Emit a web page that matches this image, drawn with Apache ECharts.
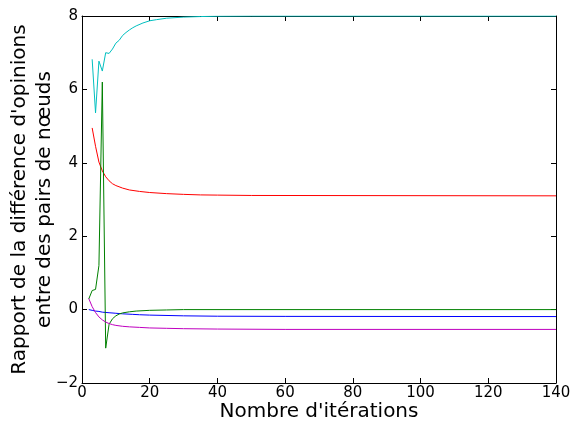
<!DOCTYPE html>
<html>
<head>
<meta charset="utf-8">
<script src="https://cdn.jsdelivr.net/npm/echarts@6/dist/echarts.min.js"></script>
<style>
html,body{margin:0;padding:0;background:#fff;}
#main{width:577px;height:424px;}
</style>
</head>
<body>
<div id="main"></div>
<script>
// Axis ticks
var xTicks = [0, 20, 40, 60, 80, 100, 120, 140];
var yTicks = [-2, 0, 2, 4, 6, 8];

// Series (iterations, values)
var blueX = [2, 3, 4, 5, 6, 8, 10, 12, 15, 17, 20, 30, 40, 60, 140];
var blueY = [0.0, -0.02, -0.04, -0.05, -0.07, -0.085, -0.1, -0.115, -0.13, -0.14, -0.15, -0.17, -0.18, -0.185, -0.19];

var redX = [3, 4, 5, 6, 7, 8, 9, 10, 12, 14, 17, 20, 25, 30, 35, 40, 50, 140];
var redY = [4.95, 4.45, 4.02, 3.78, 3.62, 3.51, 3.43, 3.38, 3.31, 3.26, 3.22, 3.19, 3.16, 3.14, 3.125, 3.12, 3.11, 3.1];

var greenX = [2, 3, 4, 5, 6, 7, 8, 9, 10, 11, 12, 14, 16, 20, 25, 30, 140];
var greenY = [0.29, 0.52, 0.55, 1.2, 6.2, -1.05, -0.4, -0.25, -0.17, -0.12, -0.09, -0.06, -0.04, -0.02, -0.01, 0.0, 0.0];

var cyanX = [3, 4, 5, 6, 7, 8, 9, 10, 11, 12, 13, 14, 15, 16, 18, 20, 22, 25, 30, 35, 40, 50, 140];
var cyanY = [6.82, 5.36, 6.77, 6.5, 7.0, 6.98, 7.1, 7.26, 7.34, 7.47, 7.55, 7.62, 7.68, 7.73, 7.81, 7.87, 7.9, 7.94, 7.97, 7.985, 7.995, 8.0, 8.0];

var magentaX = [2, 3, 4, 5, 6, 7, 8, 9, 10, 12, 14, 17, 20, 25, 30, 40, 60, 140];
var magentaY = [0.3, 0.08, -0.08, -0.2, -0.28, -0.34, -0.38, -0.41, -0.43, -0.455, -0.47, -0.485, -0.5, -0.51, -0.52, -0.53, -0.54, -0.54];

var xTitle = "Nombre d'itérations";
var yTitle = "Rapport de la différence d'opinions\nentre des pairs de nœuds";

function pairs(xs, ys) { return xs.map(function (x, i) { return [x, ys[i]]; }); }
function fmt(v) { return String(v).replace('-', '\u2212'); }

var FONT = 'DejaVu Sans';
var axisLine = { show: true, onZero: false, lineStyle: { color: '#000', width: 1 } };
var tickIn = { show: true, inside: true, length: 5, lineStyle: { color: '#000', width: 1 } };

function line(name, xs, ys, color) {
  return {
    name: name, type: 'line', data: pairs(xs, ys), showSymbol: false, symbol: 'none',
    lineStyle: { color: color, width: 1 }, itemStyle: { color: color },
    animation: false, silent: true, xAxisIndex: 0, yAxisIndex: 0
  };
}

var chart = echarts.init(document.getElementById('main'), null, { renderer: 'canvas' });
chart.setOption({
  animation: false,
  backgroundColor: '#fff',
  grid: { left: 82, right: 21, top: 16, bottom: 41, containLabel: false, outerBoundsMode: 'none' },
  xAxis: [
    {
      type: 'value', min: xTicks[0], max: xTicks[xTicks.length - 1], interval: 20,
      position: 'bottom', axisLine: axisLine, axisTick: tickIn, splitLine: { show: false },
      axisLabel: { fontFamily: FONT, fontSize: 15, color: '#000', margin: 3, formatter: fmt },
      name: xTitle, nameLocation: 'middle', nameGap: 19, nameMoveOverlap: false,
      nameTextStyle: { fontFamily: FONT, fontSize: 20, color: '#000' }
    },
    {
      type: 'value', min: xTicks[0], max: xTicks[xTicks.length - 1], interval: 20,
      position: 'top', axisLine: axisLine, axisTick: tickIn, splitLine: { show: false },
      axisLabel: { show: false }
    }
  ],
  yAxis: [
    {
      type: 'value', min: yTicks[0], max: yTicks[yTicks.length - 1], interval: 2,
      position: 'left', axisLine: axisLine, axisTick: tickIn, splitLine: { show: false },
      axisLabel: { fontFamily: FONT, fontSize: 15, color: '#000', margin: 4, formatter: fmt },
      name: yTitle, nameLocation: 'middle', nameGap: 25, nameRotate: 90, nameMoveOverlap: false,
      nameTextStyle: { fontFamily: FONT, fontSize: 20, color: '#000', lineHeight: 25 }
    },
    {
      type: 'value', min: yTicks[0], max: yTicks[yTicks.length - 1], interval: 2,
      position: 'right', axisLine: axisLine, axisTick: tickIn, splitLine: { show: false },
      axisLabel: { show: false }
    }
  ],
  series: [
    line('b', blueX, blueY, '#0000ff'),
    line('r', redX, redY, '#ff0000'),
    line('g', greenX, greenY, '#008000'),
    line('c', cyanX, cyanY, '#00bfbf'),
    line('m', magentaX, magentaY, '#bf00bf')
  ]
});
</script>
</body>
</html>
